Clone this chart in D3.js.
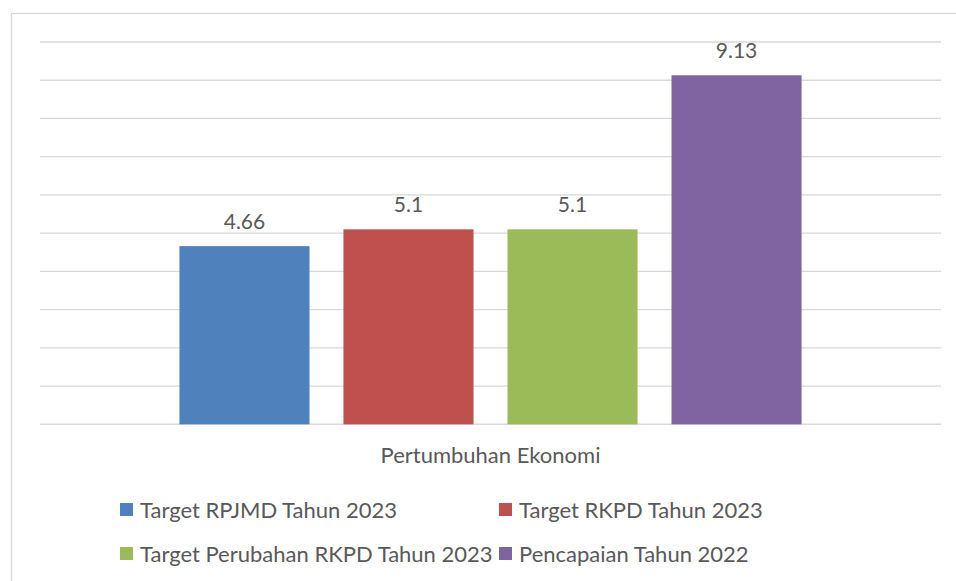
<!DOCTYPE html>
<html><head><meta charset="utf-8">
<script src="https://cdn.jsdelivr.net/npm/d3@7"></script>
<style>body{margin:0;background:#fff}svg{display:block}text{font-family:Lato,"Open Sans",sans-serif;fill:#595959}</style>
</head><body>
<script>
const categories = ["Pertumbuhan Ekonomi"];
const seriesNames = ["Target RPJMD Tahun 2023","Target RKPD Tahun 2023","Target Perubahan RKPD Tahun 2023","Pencapaian Tahun 2022"];
const seriesValues = [4.66, 5.1, 5.1, 9.13];
const valueLabels = ["4.66","5.1","5.1","9.13"];
const colors = ["#4f81bd","#c0504d","#9bbb59","#8064a2"];
const yTicks = [0,1,2,3,4,5,6,7,8,9,10];

const W=956,H=581;
const svg=d3.select("body").append("svg").attr("width",W).attr("height",H);
svg.append("rect").attr("x",11.5).attr("y",13.5).attr("width",980).attr("height",620)
  .attr("fill","#fff").attr("stroke","#d9d9d9").attr("stroke-width",1.3);

const plotL=40, plotR=941, plotT=42, plotB=424.3;
const y=d3.scaleLinear().domain([0,10]).range([plotB,plotT]);
const x0=d3.scaleBand().domain(categories).range([plotL,plotR]);
const x1=d3.scaleBand().domain(seriesNames).range([0,x0.bandwidth()]).paddingInner(0.207).paddingOuter(0.85);

svg.append("g").selectAll("line").data(yTicks).join("line")
  .attr("x1",plotL).attr("x2",plotR).attr("y1",d=>y(d)).attr("y2",d=>y(d))
  .attr("stroke","#d9d9d9").attr("stroke-width",d=>d===0?1.5:1.3);

const g=svg.append("g");
seriesNames.forEach((s,i)=>{
  const bx=x0(categories[0])+x1(s);
  g.append("rect").attr("x",bx).attr("y",y(seriesValues[i])).attr("width",x1.bandwidth())
   .attr("height",y(0)-y(seriesValues[i])).attr("fill",colors[i]);
  g.append("text").attr("x",bx+x1.bandwidth()/2).attr("y",y(seriesValues[i])-17.5)
   .attr("text-anchor","middle").attr("font-size",21).text(valueLabels[i]);
});

svg.append("text").attr("x",x0(categories[0])+x0.bandwidth()/2).attr("y",462.5)
  .attr("text-anchor","middle").attr("font-size",22).text(categories[0]);

const legPos=[[120,503],[499,503],[120,547],[499,547]];
seriesNames.forEach((s,i)=>{
  const [lx,ly]=legPos[i];
  svg.append("rect").attr("x",lx).attr("y",ly).attr("width",13).attr("height",13).attr("fill",colors[i]);
  svg.append("text").attr("x",lx+20).attr("y",ly+14.5).attr("font-size",22).text(s);
});
</script>
</body></html>
